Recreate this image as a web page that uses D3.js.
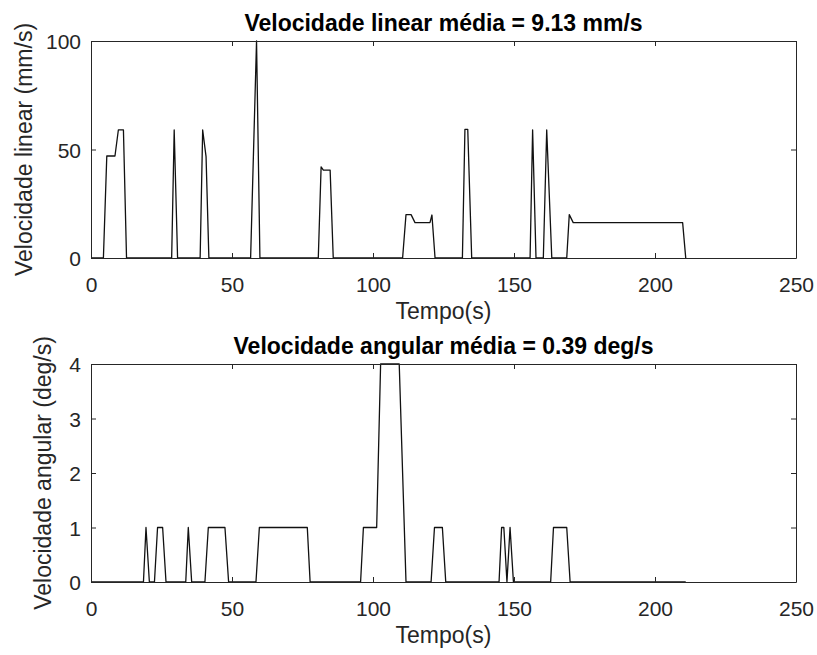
<!DOCTYPE html>
<html>
<head>
<meta charset="utf-8">
<script src="https://cdn.jsdelivr.net/npm/d3@7"></script>
<style>
  body { margin: 0; background: #fff; }
  svg { display: block; }
  text { font-family: "Liberation Sans", Arial, Helvetica, sans-serif; }
</style>
</head>
<body>
<svg id="chart" width="817" height="655"></svg>
<script>
// linear speed (mm/s) vs time (s)
var linT = [0, 4.4, 5.6, 8.5, 9.7, 11.5, 12.6, 28.6, 29.5, 30.7, 38.7, 39.6, 40.8, 41.8,
            56.6, 58.7, 59.9, 80.6, 81.6, 82.4, 84.8, 85.9, 110.5, 111.7, 113.5, 114.9,
            120.2, 120.9, 122, 131.7, 132.6, 133.6, 135, 155.7, 156.6, 157.8, 160.4,
            161.6, 163.4, 168.7, 169.6, 171, 209.8, 210.9];
var linV = [0, 0, 47, 47, 59, 59, 0, 0, 59, 0, 0, 59, 46.7, 0,
            0, 100, 0, 0, 42, 40.5, 40.5, 0, 0, 20, 20, 16.3,
            16.3, 19.8, 0, 0, 59.3, 59.3, 0, 0, 59, 0, 0,
            59, 0, 0, 20, 16.3, 16.3, 0];

// angular speed (deg/s) vs time (s)
var angT = [0, 18.6, 19.5, 20.7, 22.5, 23.6, 25.4, 26.6, 33.6, 34.5, 35.7, 40.4, 41.6,
            47.5, 48.8, 58.5, 59.7, 76.7, 77.7, 95.6, 96.6, 101.3, 102.7, 109.3, 111.7,
            120.6, 121.8, 124.6, 125.8, 144.7, 145.6, 146.4, 147.5, 148.6, 149.8,
            163, 164, 168.7, 169.9, 210.9];
var angV = [0, 0, 1, 0, 0, 1, 1, 0, 0, 1, 0, 0, 1,
            1, 0, 0, 1, 1, 0, 0, 1, 1, 4, 4, 0,
            0, 1, 1, 0, 0, 1, 1, 0, 1, 0,
            0, 1, 1, 0, 0];

var xTicks = [0, 50, 100, 150, 200, 250];
var linTicks = [0, 50, 100];
var angTicks = [0, 1, 2, 3, 4];

var svg = d3.select("#chart");
var axisCol = "#262626";
var tickFont = 21, labelFont = 23;

function panel(top, bottom, ts, vs, ymax, yticks, title, ylabel, ylabelX) {
  var x = d3.scaleLinear().domain([0, 250]).range([91, 796]);
  var y = d3.scaleLinear().domain([0, ymax]).range([bottom, top]);
  var g = svg.append("g");

  var clipId = "clip" + top;
  svg.append("clipPath").attr("id", clipId)
    .append("rect").attr("x", 91).attr("y", top - 1).attr("width", 705).attr("height", bottom - top + 2);

  var pts = ts.map(function(t, i) { return [t, vs[i]]; });
  var line = d3.line().x(function(d) { return x(d[0]); }).y(function(d) { return y(d[1]); });
  g.append("path")
    .datum(pts)
    .attr("clip-path", "url(#" + clipId + ")")
    .attr("d", line)
    .attr("fill", "none")
    .attr("stroke", "#111")
    .attr("stroke-width", 1.3)
    .attr("stroke-linejoin", "round");

  // axes with inward ticks, mirrored on top/right
  var xb = g.append("g").attr("transform", "translate(0," + bottom + ")")
    .call(d3.axisBottom(x).tickValues(xTicks).tickSizeInner(-5).tickSizeOuter(0).tickFormat(d3.format("d")))
    .call(style);
  xb.selectAll(".tick text").attr("y", 34).attr("dy", 0);
  g.append("g").attr("transform", "translate(0," + top + ")")
    .call(d3.axisTop(x).tickValues(xTicks).tickSizeInner(-5).tickSizeOuter(0).tickFormat(""))
    .call(style);
  var yl = g.append("g").attr("transform", "translate(91,0)")
    .call(d3.axisLeft(y).tickValues(yticks).tickSizeInner(-5).tickSizeOuter(0).tickFormat(d3.format("d")))
    .call(style);
  yl.selectAll(".tick text").attr("x", -10).attr("dy", "0.36em");
  g.append("g").attr("transform", "translate(796,0)")
    .call(d3.axisRight(y).tickValues(yticks).tickSizeInner(-5).tickSizeOuter(0).tickFormat(""))
    .call(style);

  g.append("text")
    .attr("x", 443.5).attr("y", top - 10)
    .attr("text-anchor", "middle")
    .attr("font-size", labelFont).attr("font-weight", "bold")
    .attr("fill", "#000")
    .text(title);

  g.append("text")
    .attr("x", 443.5).attr("y", bottom + 61)
    .attr("text-anchor", "middle")
    .attr("font-size", labelFont)
    .attr("fill", axisCol)
    .text("Tempo(s)");

  g.append("text")
    .attr("transform", "translate(" + ylabelX + "," + ((top + bottom) / 2) + ") rotate(-90)")
    .attr("text-anchor", "middle")
    .attr("font-size", labelFont)
    .attr("fill", axisCol)
    .text(ylabel);
}

function style(sel) {
  sel.select(".domain").attr("stroke", axisCol).attr("stroke-width", 1);
  sel.selectAll(".tick line").attr("stroke", axisCol);
  sel.selectAll(".tick text")
    .attr("font-size", tickFont)
    .attr("font-family", "'Liberation Sans', Arial, sans-serif")
    .attr("fill", axisCol);
}

panel(41, 258, linT, linV, 100, linTicks, "Velocidade linear média = 9.13 mm/s", "Velocidade linear (mm/s)", 32);
panel(364, 582, angT, angV, 4, angTicks, "Velocidade angular média = 0.39 deg/s", "Velocidade angular (deg/s)", 51);
</script>
</body>
</html>
